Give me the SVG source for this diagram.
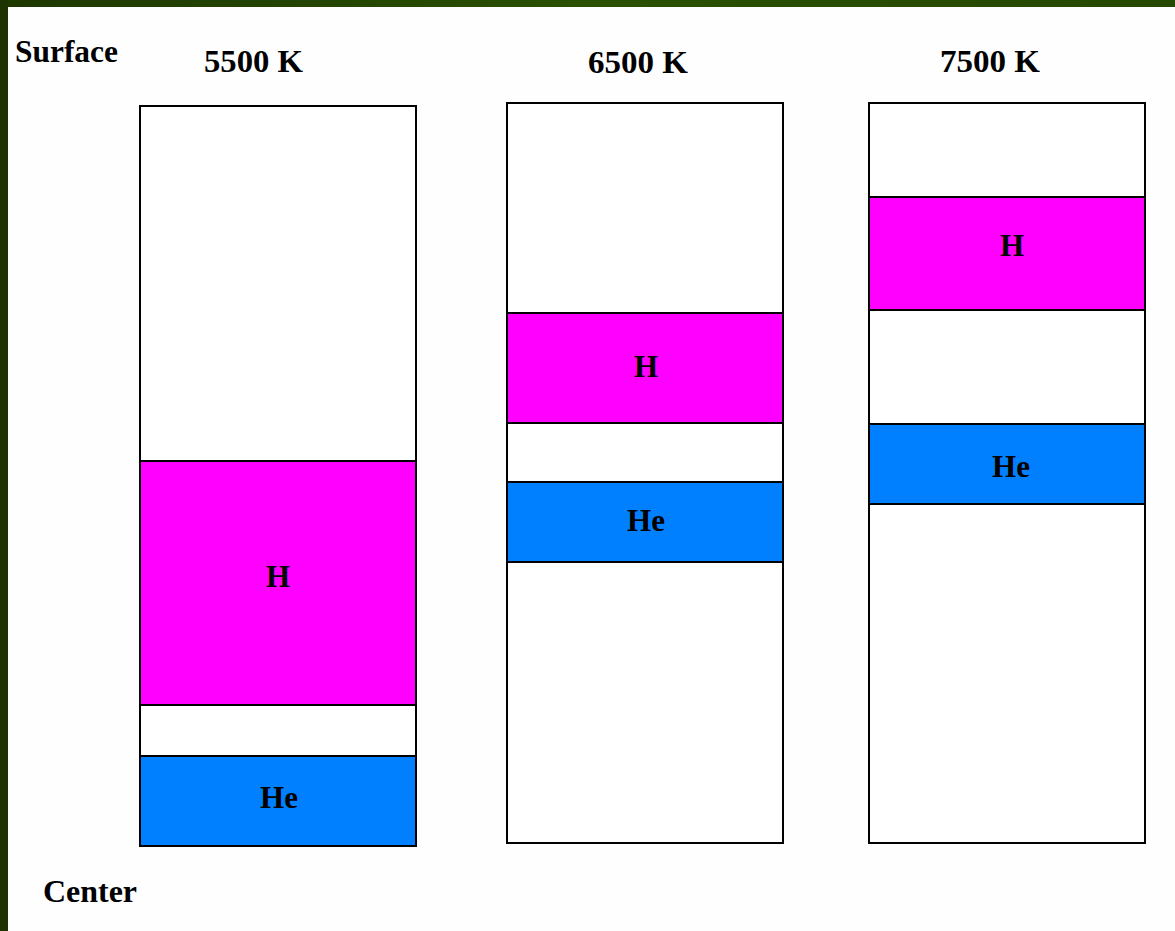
<svg xmlns="http://www.w3.org/2000/svg" width="1175" height="931" viewBox="0 0 1175 931">
<style>
.t{font-family:"Liberation Serif","Times New Roman",serif;font-weight:bold;font-size:31px;fill:#000}
.c{text-anchor:middle}
.box{stroke:#000;stroke-width:2}
.w{fill:#fff}
.h{fill:#ff00ff}
.he{fill:#0080ff}
</style>
<defs>
<linearGradient id="gbar" x1="0" y1="0" x2="1" y2="0">
<stop offset="0" stop-color="#1e3800"/>
<stop offset="0.5" stop-color="#2a5000"/>
<stop offset="1" stop-color="#264800"/>
</linearGradient>
</defs>
<rect x="0" y="0" width="1175" height="931" fill="#fefefe"/>
<rect x="0" y="0" width="1175" height="7" fill="url(#gbar)"/>
<rect x="0" y="0" width="8" height="931" fill="#1f3300"/>
<g id="labels">
<text class="t" x="15" y="62" textLength="103" lengthAdjust="spacingAndGlyphs">Surface</text>
<text class="t" x="43" y="902" textLength="94" lengthAdjust="spacingAndGlyphs">Center</text>
</g>
<g id="col1">
<text class="t" x="204" y="72" textLength="99" lengthAdjust="spacingAndGlyphs">5500 K</text>
<rect class="box w" x="140" y="106" width="276" height="740"/>
<rect class="box h" x="140" y="461" width="276" height="244"/>
<rect class="box he" x="140" y="756" width="276" height="90"/>
<text class="t c" x="278" y="587">H</text>
<text class="t c" x="279" y="808">He</text>
</g>
<g id="col2">
<text class="t" x="588" y="73" textLength="100" lengthAdjust="spacingAndGlyphs">6500 K</text>
<rect class="box w" x="507" y="103" width="276" height="740"/>
<rect class="box h" x="507" y="313" width="276" height="110"/>
<rect class="box he" x="507" y="482" width="276" height="80"/>
<text class="t c" x="646" y="377">H</text>
<text class="t c" x="646" y="531">He</text>
</g>
<g id="col3">
<text class="t" x="940" y="72" textLength="100" lengthAdjust="spacingAndGlyphs">7500 K</text>
<rect class="box w" x="869" y="103" width="276" height="740"/>
<rect class="box h" x="869" y="197" width="276" height="113"/>
<rect class="box he" x="869" y="424" width="276" height="80"/>
<text class="t c" x="1012" y="256">H</text>
<text class="t c" x="1011" y="477">He</text>
</g>
<g id="connectors"></g>
</svg>
